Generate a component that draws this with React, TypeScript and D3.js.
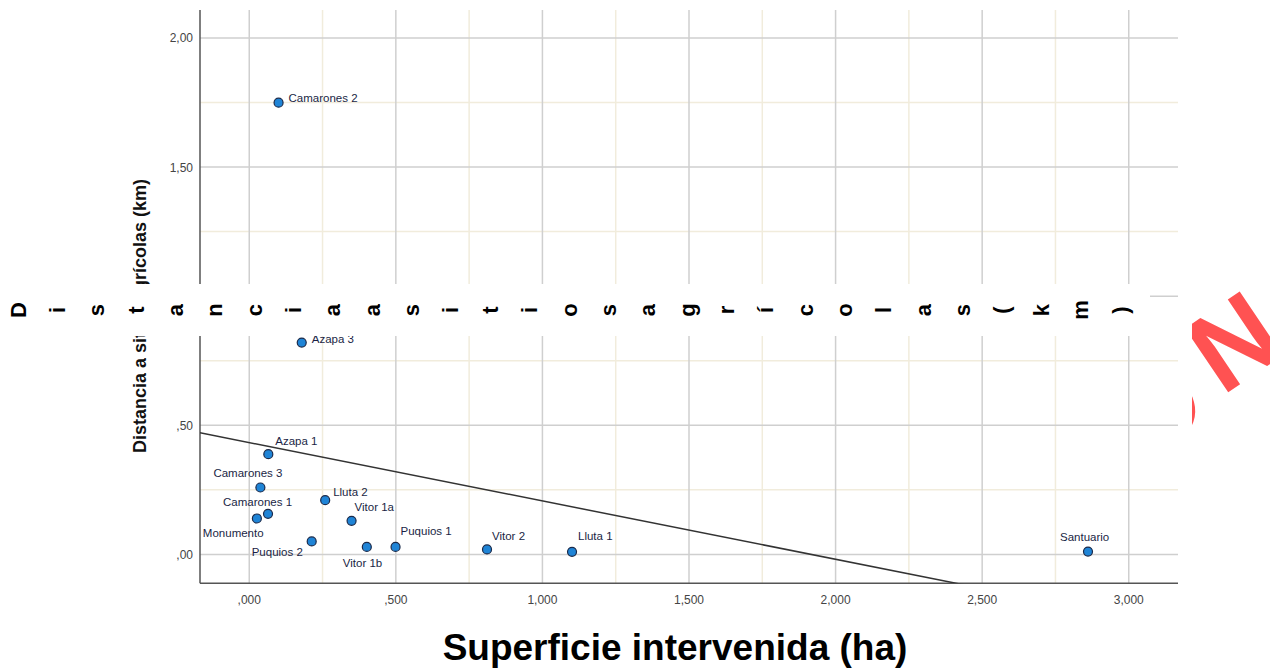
import React from 'react';
import * as d3 from 'd3';

const sites = ['Camarones 2', 'Azapa 3', 'Azapa 1', 'Camarones 3', 'Lluta 2', 'Camarones 1', 'Monumento',
  'Vitor 1a', 'Puquios 2', 'Vitor 1b', 'Puquios 1', 'Vitor 2', 'Lluta 1', 'Santuario'];
const surface = [0.100, 0.179, 0.065, 0.038, 0.259, 0.064, 0.026, 0.349, 0.213, 0.401, 0.499, 0.811, 1.101, 2.861];
const distance = [1.749, 0.820, 0.388, 0.259, 0.210, 0.157, 0.139, 0.130, 0.050, 0.029, 0.029, 0.019, 0.010, 0.011];
const xTicks = [0, 0.5, 1, 1.5, 2, 2.5, 3];
const yTicks = [0, 0.5, 1, 1.5, 2];
const fitIntercept = 0.433;
const fitSlope = -0.226;
const xTitle = 'Superficie intervenida (ha)';
const yTitle = 'Distancia a sitios agrícolas (km)';

// where each point label sits relative to its dot (px)
const labelOffset: Record<string, [number, number]> = {
  'Camarones 2': [10, -1], 'Azapa 3': [10, 0], 'Azapa 1': [7, -9], 'Camarones 3': [-47, -10],
  'Lluta 2': [8, -4], 'Camarones 1': [-45, -8], 'Monumento': [-54, 19], 'Vitor 1a': [3, -10],
  'Puquios 2': [-60, 15], 'Vitor 1b': [-24, 20], 'Puquios 1': [5, -12], 'Vitor 2': [5, -9],
  'Lluta 1': [6, -12], 'Santuario': [-28, -11],
};

const W = 1270, H = 668;
const plot = { left: 200, right: 1178, top: 10, bottom: 583.3 };
const font = "Arial, 'Liberation Sans', sans-serif";

function fmt(v: number, digits: number) {
  return d3.format(`.${digits}f`)(v).replace('.', ',').replace(/^0,/, ',');
}

export default function App() {
  const x = d3.scaleLinear().domain([-0.168, 3.168]).range([plot.left, plot.right]);
  const y = d3.scaleLinear().domain([-0.112, 2.108]).range([plot.bottom, plot.top]);

  const xMinor = xTicks.slice(0, -1).map(t => t + 0.25);
  const yMinor = yTicks.slice(0, -1).map(t => t + 0.25);

  const fit = d3.line<number>()
    .x(d => x(d))
    .y(d => y(fitIntercept + fitSlope * d));

  const points = sites.map((name, i) => ({ name, sx: surface[i], dy: distance[i] }));

  const chars = yTitle.replace(/ /g, '').split('');
  const letterX = d3.scalePoint<number>().domain(d3.range(chars.length)).range([18, 1120]);

  return (
    <div style={{ position: 'absolute', left: 0, top: 0 }}>
      <svg width={W} height={H} style={{ display: 'block', background: '#fff' }}>
        <defs>
          <clipPath id="plotClip">
            <rect x={plot.left} y={plot.top} width={plot.right - plot.left} height={plot.bottom - plot.top} />
          </clipPath>
          <clipPath id="wmClip">
            <rect x={1192} y={0} width={W - 1192} height={H} />
          </clipPath>
        </defs>

        {/* minor grid */}
        {xMinor.map(t => (
          <line key={'xm' + t} x1={x(t)} x2={x(t)} y1={plot.top} y2={plot.bottom} stroke="#f1ecdc" strokeWidth={1.5} />
        ))}
        {yMinor.map(t => (
          <line key={'ym' + t} x1={plot.left} x2={plot.right} y1={y(t)} y2={y(t)} stroke="#f1ecdc" strokeWidth={1.5} />
        ))}
        {/* major grid */}
        {xTicks.map(t => (
          <line key={'xg' + t} x1={x(t)} x2={x(t)} y1={plot.top} y2={plot.bottom} stroke="#cfcfcf" strokeWidth={1.5} />
        ))}
        {yTicks.map(t => (
          <line key={'yg' + t} x1={plot.left} x2={plot.right} y1={y(t)} y2={y(t)} stroke="#cfcfcf" strokeWidth={1.5} />
        ))}

        {/* axes */}
        <line x1={plot.left} x2={plot.left} y1={plot.top} y2={plot.bottom} stroke="#555" strokeWidth={1.5} />
        <line x1={plot.left} x2={plot.right} y1={plot.bottom} y2={plot.bottom} stroke="#555" strokeWidth={1.5} />

        {xTicks.map(t => (
          <text key={'xt' + t} x={x(t)} y={604} textAnchor="middle" fontFamily={font} fontSize={12} fill="#444">
            {fmt(t, 3)}
          </text>
        ))}
        {yTicks.map(t => (
          <text key={'yt' + t} x={193} y={y(t) + 4.5} textAnchor="end" fontFamily={font} fontSize={12} fill="#444">
            {fmt(t, 2)}
          </text>
        ))}

        {/* fit line */}
        <path d={fit(x.domain()) || ''} fill="none" stroke="#333" strokeWidth={1.5} clipPath="url(#plotClip)" />

        {/* points */}
        {points.map(p => (
          <circle key={p.name} cx={x(p.sx)} cy={y(p.dy)} r={4.5} fill="#1f84d6" stroke="#1b2a4a" strokeWidth={1.2} />
        ))}
        {points.map(p => {
          const [dx, dy] = labelOffset[p.name];
          return (
            <text key={'l' + p.name} x={x(p.sx) + dx} y={y(p.dy) + dy} fontFamily={font} fontSize={11.5} fill="#1a1f45">
              {p.name}
            </text>
          );
        })}

        {/* titles */}
        <text transform="translate(146,316) rotate(-90)" textAnchor="middle" fontFamily={font} fontSize={18}
          fontWeight="bold" fill="#111">{yTitle}</text>
        <text x={675} y={660} textAnchor="middle" fontFamily={font} fontSize={37} fontWeight="bold" fill="#000">
          {xTitle}
        </text>

        {/* overlaid band with spread letters */}
        <rect x={0} y={284} width={1150} height={52} fill="#fff" />
        {chars.map((c, i) => (
          <text key={'c' + i} transform={`translate(${letterX(i)},310) rotate(-90)`} textAnchor="middle"
            dominantBaseline="central" fontFamily={font} fontSize={22} fontWeight="bold" fill="#000">{c}</text>
        ))}

        {/* red watermark fragment */}
        <g clipPath="url(#wmClip)" fontFamily={font} fontSize={112} fontWeight="bold" fill="#ff5252">
          <text transform="translate(1155,409) rotate(-34)" textAnchor="middle" dominantBaseline="central">O</text>
          <text transform="translate(1234,342) rotate(-34)" textAnchor="middle" dominantBaseline="central">N</text>
        </g>
      </svg>
    </div>
  );
}
